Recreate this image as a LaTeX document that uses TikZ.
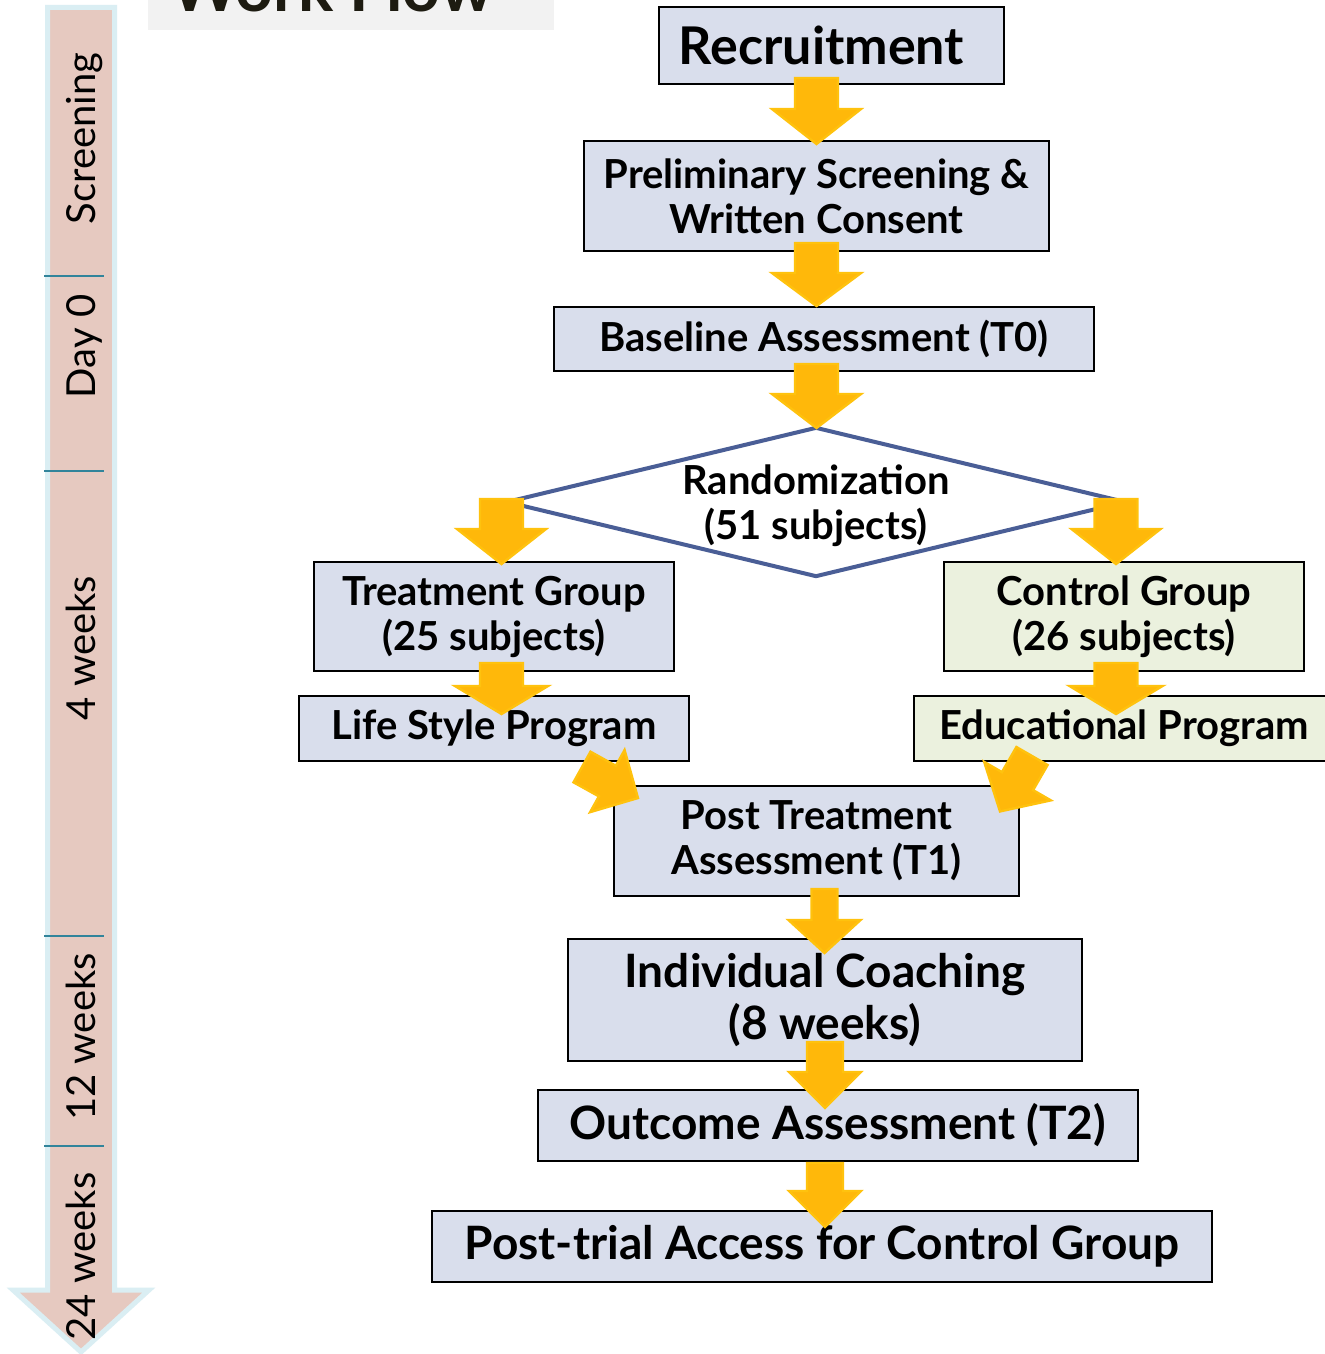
\documentclass[tikz,border=0pt]{standalone}
\usepackage{fontspec}
\setmainfont{Lato}
\usetikzlibrary{shapes.geometric}
\definecolor{boxblue}{HTML}{D9DEEC}
\definecolor{boxgreen}{HTML}{EBF1DE}
\definecolor{yelfill}{HTML}{FFB80A}
\definecolor{yeldraw}{HTML}{FFC20E}
\definecolor{dia}{HTML}{4A5E96}
\definecolor{tlpink}{HTML}{E6C9C0}
\definecolor{tlblue}{HTML}{DAEEF3}
\definecolor{tltick}{HTML}{31849B}
\definecolor{titlegray}{HTML}{F2F2F2}
\definecolor{titletext}{HTML}{1D1B11}
\newcommand{\fntA}{\bfseries\fontsize{20}{22.5}\selectfont}
\newcommand{\fntB}{\bfseries\fontsize{23}{26}\selectfont}
\newcommand{\fntC}{\bfseries\fontsize{26}{30}\selectfont}
\newcommand{\fntT}{\fontsize{20}{24}\selectfont}
\newcommand{\yarr}[7]{%
  \begin{scope}[shift={(#1,#2)},rotate=#3]
    \draw[yarrow] (0,-#5/2) -- ({#4-#7},-#5/2) -- ({#4-#7},-#6/2) -- (#4,0)
      -- ({#4-#7},#6/2) -- ({#4-#7},#5/2) -- (0,#5/2) -- cycle;
  \end{scope}}
\tikzset{
  box/.style={draw=black, line width=1pt, inner sep=0pt, align=center, text=black},
  bluebox/.style={box, fill=boxblue},
  greenbox/.style={box, fill=boxgreen},
  yarrow/.style={fill=yelfill, draw=yeldraw, line width=1.2pt, line join=miter},
  tlshape/.style={fill=tlpink, draw=tlblue, line width=2.5pt, line join=miter},
  tltickline/.style={draw=tltick, line width=1pt},
  tllabel/.style={rotate=90, anchor=base, font=\fntT, inner sep=0pt},
}
\begin{document}
\begin{tikzpicture}[x=0.5pt, y=-0.5pt]
\useasboundingbox (0,0) rectangle (1325,1354);
\clip (0,0) rectangle (1325,1354);
\fill[white] (0,0) rectangle (1325,1354);

% title
\fill[titlegray] (148,-10) rectangle (554,30);
\node[anchor=base west, inner sep=0pt, text=titletext, font=\bfseries\fontsize{33}{36}\selectfont] (title) at (170,12) {Work Flow};

% timeline
\draw[tlshape] (47.5,7.5) -- (114.5,7.5) -- (114.5,1290) -- (149,1290) -- (81,1352) -- (13,1290) -- (47.5,1290) -- cycle;
\draw[tltickline] (44,276) -- (104,276);
\draw[tltickline] (44,471) -- (104,471);
\draw[tltickline] (44,936) -- (104,936);
\draw[tltickline] (44,1146) -- (104,1146);
\node[tllabel] (lscr) at (95,138.5) {Screening};
\node[tllabel] (lday) at (95,346.5) {Day 0};
\node[tllabel] (l4w) at (95,648) {4 weeks};
\node[tllabel] (l12w) at (95,1037) {12 weeks};
\node[tllabel] (l24w) at (95,1256.5) {24 weeks};

% boxes
\node[bluebox, minimum width=345*0.5pt, minimum height=77*0.5pt, font=\fntC] (rec) at (831.5,45.5) {\hspace*{-10pt}Recruitment};
\node[bluebox, minimum width=465*0.5pt, minimum height=110*0.5pt, font=\fntA] (pre) at (816.5,196) {Preliminary Screening \&\\Written Consent};
\node[bluebox, minimum width=540*0.5pt, minimum height=64*0.5pt, font=\fntA] (base) at (824,339) {Baseline Assessment (T0)};
\node[draw=dia, line width=2pt, shape=diamond, minimum width=620*0.5pt, minimum height=150*0.5pt, inner sep=0pt] (rand) at (816,502) {};
\node[align=center, font=\fntA, inner sep=0pt, yshift=-2pt] (randtxt) at (rand.center) {Randomization\\(51 subjects)};
\node[bluebox, minimum width=360*0.5pt, minimum height=109*0.5pt, font=\fntA] (treat) at (494,616.5) {Treatment Group\\(25 subjects)};
\node[greenbox, minimum width=360*0.5pt, minimum height=109*0.5pt, font=\fntA] (ctrl) at (1124,616.5) {Control Group\\(26 subjects)};
\node[bluebox, minimum width=390*0.5pt, minimum height=65*0.5pt, font=\fntA] (life) at (494,728.5) {Life Style Program};
\node[greenbox, minimum width=420*0.5pt, minimum height=65*0.5pt, font=\fntA] (edu) at (1124,728.5) {Educational Program};
\node[bluebox, minimum width=405*0.5pt, minimum height=110*0.5pt, font=\fntA] (post) at (816.5,841) {Post Treatment\\Assessment (T1)};
\node[bluebox, minimum width=514*0.5pt, minimum height=122*0.5pt, font=\fntB] (ind) at (825,1000) {Individual Coaching\\(8 weeks)};
\node[bluebox, minimum width=600*0.5pt, minimum height=71*0.5pt, font=\fntB] (out) at (838,1125.5) {Outcome Assessment (T2)};
\node[bluebox, minimum width=780*0.5pt, minimum height=71*0.5pt, font=\fntB] (ptrial) at (822,1246.5) {Post-trial Access for Control Group};

% yellow block arrows
\yarr{816.5}{78}{-90}{66}{43}{89}{35}
\yarr{816.5}{243}{-90}{63}{43}{89}{33}
\yarr{816.5}{364}{-90}{64}{43}{89}{34}
\yarr{501.5}{499}{-90}{65}{43}{89}{35}
\yarr{1116}{499}{-90}{65}{43}{89}{35}
\yarr{501.5}{663}{-90}{51}{43}{93}{28}
\yarr{1116}{663}{-90}{51}{43}{93}{28}
\yarr{582}{767}{-29}{64}{35}{71}{35}
\yarr{1032}{756}{-120}{64}{36}{77}{35}
\yarr{824.5}{889}{-90}{64}{26}{72}{33}
\yarr{825}{1042}{-90}{66}{36}{72}{36}
\yarr{825}{1163}{-90}{64}{36}{72}{36}
\end{tikzpicture}
\end{document}
